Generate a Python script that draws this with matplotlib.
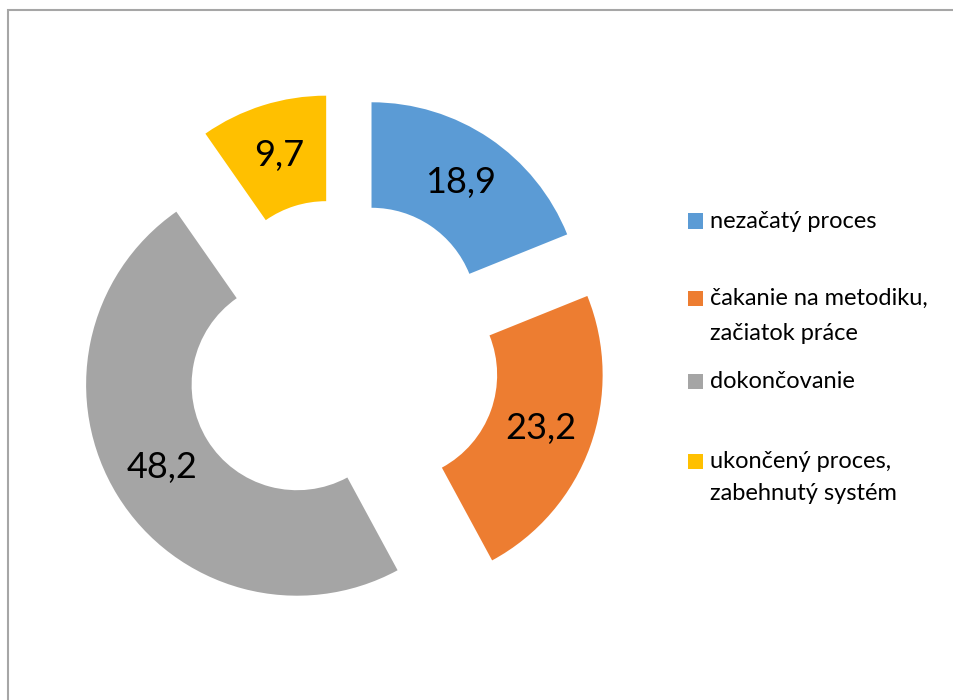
import matplotlib
matplotlib.use("Agg")
import matplotlib.pyplot as plt
from matplotlib.patches import Rectangle

labels = ["nezačatý proces", "čakanie na metodiku,\nzačiatok práce",
          "dokončovanie", "ukončený proces,\nzabehnutý systém"]
values = [18.9, 23.2, 48.2, 9.7]
colors = ["#5B9BD5", "#ED7D31", "#A5A5A5", "#FFC000"]

plt.rcParams['font.family'] = ['Lato', 'DejaVu Sans']

W, H = 954, 700
fig = plt.figure(figsize=(W / 100, H / 100), dpi=100)

# chart border (only top/left edges visible in the crop)
fig.patches.append(Rectangle((8 / W, -0.1), 1.2, (H - 10) / H + 0.1, transform=fig.transFigure,
                             fill=False, edgecolor="#A6A6A6", lw=1.5))

R = 211
cx, cy = 342, 357
half = 1.5 * R
ax = fig.add_axes([(cx - half) / W, (H - cy - half) / H, 2 * half / W, 2 * half / H])

wedges, texts = ax.pie(values, colors=colors, startangle=90, counterclock=False,
                       explode=[0.25] * len(values), radius=1.0,
                       labels=[f"{v:.1f}".replace('.', ',') for v in values],
                       labeldistance=0.75,
                       wedgeprops=dict(width=0.5, linewidth=0),
                       textprops=dict(fontsize=26, color="black"))
for t in texts:
    t.set_horizontalalignment('center')
    t.set_verticalalignment('center')
ax.set_xlim(-1.5, 1.5)
ax.set_ylim(-1.5, 1.5)
ax.set_aspect('equal')
ax.axis('off')

# legend, laid out like the Excel one
line_y = [[221], [298, 333], [381], [461, 494]]
for lab, col, ys in zip(labels, colors, line_y):
    fig.patches.append(Rectangle((688 / W, 1 - (ys[0] + 7.5) / H), 15 / W, 15 / H,
                                 transform=fig.transFigure, color=col, lw=0))
    for line, y in zip(lab.split("\n"), ys):
        fig.text(710 / W, 1 - y / H, line, fontsize=17, va='center', ha='left')

fig.savefig("out.png", dpi=100)
